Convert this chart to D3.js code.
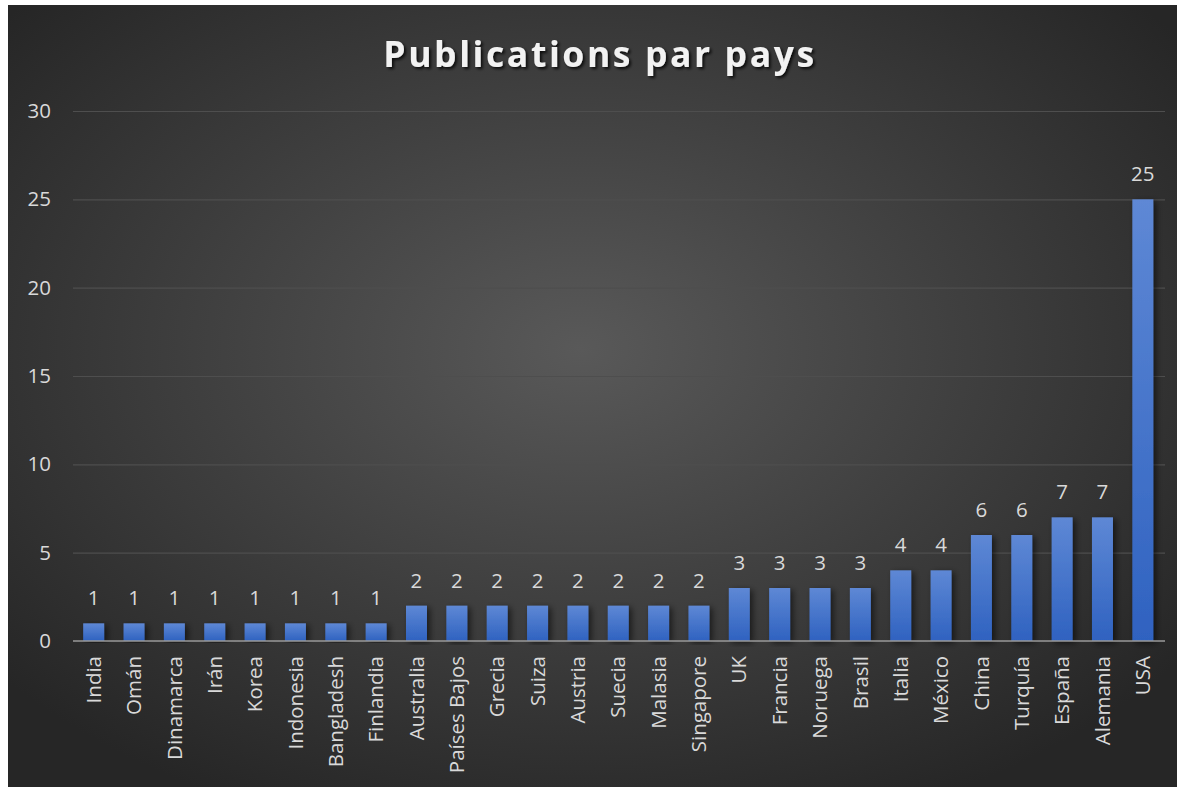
<!DOCTYPE html>
<html><head><meta charset="utf-8">
<script src="https://cdn.jsdelivr.net/npm/d3@7"></script>
<style>html,body{margin:0;padding:0;background:#fff;}svg{display:block;}</style>
</head><body>
<svg id="c" width="1177" height="787"></svg>
<script>
const categories = ["India","Omán","Dinamarca","Irán","Korea","Indonesia","Bangladesh","Finlandia","Australia","Países Bajos","Grecia","Suiza","Austria","Suecia","Malasia","Singapore","UK","Francia","Noruega","Brasil","Italia","México","China","Turquía","España","Alemania","USA"];
const values = [1,1,1,1,1,1,1,1,2,2,2,2,2,2,2,2,3,3,3,3,4,4,6,6,7,7,25];
const yTicks = [0,5,10,15,20,25,30];
const title = "Publications par pays";

const svg = d3.select("#c");
const W = 1177, H = 787;
const defs = svg.append("defs");
const rg = defs.append("radialGradient").attr("id","bg").attr("cx","49%").attr("cy","44%").attr("r","65%");
rg.append("stop").attr("offset","0%").attr("stop-color","#595959");
rg.append("stop").attr("offset","100%").attr("stop-color","#262626");
const lg = defs.append("linearGradient").attr("id","bar").attr("x1",0).attr("y1",0).attr("x2",0).attr("y2",1);
lg.append("stop").attr("offset","0%").attr("stop-color","#5e88d5");
lg.append("stop").attr("offset","100%").attr("stop-color","#2f62c0");
const f = defs.append("filter").attr("id","sh").attr("x","-50%").attr("y","-10%").attr("width","200%").attr("height","120%");
f.append("feDropShadow").attr("dx",3).attr("dy",2).attr("stdDeviation",3).attr("flood-color","#000").attr("flood-opacity",0.55);
const ft = defs.append("filter").attr("id","tsh").attr("x","-10%").attr("y","-30%").attr("width","120%").attr("height","160%");
ft.append("feDropShadow").attr("dx",2).attr("dy",2).attr("stdDeviation",1.5).attr("flood-color","#000").attr("flood-opacity",0.8);

svg.append("rect").attr("x",8).attr("y",5).attr("width",W-8).attr("height",H-5).attr("fill","url(#bg)");

const x = d3.scaleBand().domain(categories).range([73.5,1163]).paddingInner(0.48).paddingOuter(0.24);
const y = d3.scaleLinear().domain([0,30]).range([641,111]);

const font = "'Open Sans', 'DejaVu Sans', sans-serif";

svg.append("text").attr("x",600).attr("y",67).attr("text-anchor","middle")
  .attr("fill","#f2f2f2").attr("font-family",font).attr("font-weight","bold")
  .attr("font-size",35.5).attr("letter-spacing",2.6).attr("filter","url(#tsh)").text(title);

const yAxis = d3.axisLeft(y).tickValues(yTicks).tickSize(-(1165-73)).tickPadding(22);
const gy = svg.append("g").attr("transform","translate(73,0)").call(yAxis);
gy.select(".domain").remove();
gy.selectAll(".tick line").attr("stroke","#4e4e4e").attr("stroke-width",1.2);
gy.selectAll(".tick text").attr("fill","#d9d9d9").attr("font-family",font).attr("font-size",20.5);
gy.selectAll(".tick").filter(d=>d===0).select("line").remove();

svg.selectAll("rect.b").data(values).join("rect").attr("class","b")
  .attr("x",(d,i)=>x(categories[i])).attr("width",x.bandwidth())
  .attr("y",d=>y(d)).attr("height",d=>y(0)-y(d))
  .attr("fill","url(#bar)").attr("filter","url(#sh)");

svg.append("line").attr("x1",73).attr("x2",1165).attr("y1",y(0)).attr("y2",y(0))
  .attr("stroke","#9a9a9a").attr("stroke-width",1.6);

svg.selectAll("text.v").data(values).join("text").attr("class","v")
  .attr("x",(d,i)=>x(categories[i])+x.bandwidth()/2).attr("y",d=>y(d)-18)
  .attr("text-anchor","middle").attr("fill","#d9d9d9").attr("font-family",font).attr("font-size",20.5)
  .text(d=>d);

const xAxis = d3.axisBottom(x).tickSize(0).tickPadding(0);
const gx = svg.append("g").attr("transform",`translate(0,${y(0)})`).call(xAxis);
gx.select(".domain").remove();
gx.selectAll(".tick text").attr("fill","#d9d9d9").attr("font-family",font).attr("font-size",20.5)
  .attr("text-anchor","end").attr("transform","translate(0,15) rotate(-90)")
  .attr("dx",0).attr("dy","0.35em").attr("x",0).attr("y",0);
</script>
</body></html>
